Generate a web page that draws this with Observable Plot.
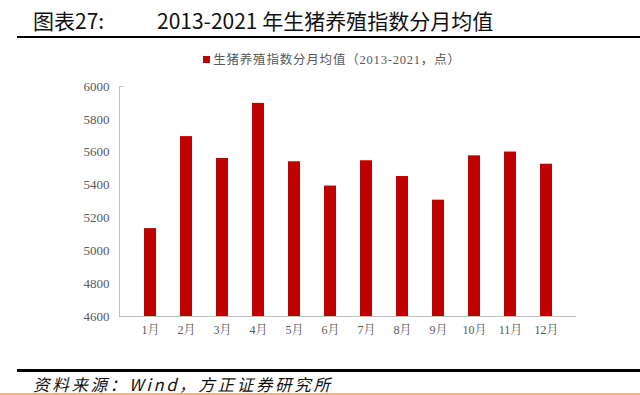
<!DOCTYPE html>
<html><head><meta charset="utf-8">
<script src="https://cdn.jsdelivr.net/npm/d3@7"></script>
<script src="https://cdn.jsdelivr.net/npm/@observablehq/plot@0.6"></script>
<style>
body{margin:0;background:#fff;}
#wrap{position:relative;width:640px;height:395px;overflow:hidden;font-family:"Noto Sans CJK SC",sans-serif;}
#title{position:absolute;left:33px;top:7px;font-size:21px;color:#111;white-space:pre;line-height:26px;}
#title .t2{position:absolute;left:124px;top:0;}
#rule1{position:absolute;left:17px;right:0;top:36px;height:2px;background:#000;}
#legend{position:absolute;left:0;width:640px;padding-left:24px;box-sizing:border-box;top:49px;text-align:center;font-size:12.5px;color:#595959;font-family:"Liberation Serif","Noto Sans CJK SC",serif;letter-spacing:0.8px;}
#legend .sw{display:inline-block;width:7px;height:7px;background:#c00000;margin-right:3px;vertical-align:1px;}
#chart{position:absolute;left:0;top:60px;}
#rule2{position:absolute;left:17px;right:0;top:369px;height:3px;background:#000;}
#source{position:absolute;left:33px;top:372px;font-size:16.5px;font-style:italic;color:#111;letter-spacing:2.7px;white-space:pre;}
#rule3{position:absolute;left:0;right:0;top:393px;height:2px;background:#f4b183;}
</style></head>
<body>
<div id="wrap">
  <div id="title">图表27:<span class="t2">2013-2021 年生猪养殖指数分月均值</span></div>
  <div id="rule1"></div>
  <div id="legend"><span class="sw"></span>生猪养殖指数分月均值（2013-2021，点）</div>
  <div id="chart"></div>
  <div id="rule2"></div>
  <div id="source">资料来源：Wind，方正证券研究所</div>
  <div id="rule3"></div>
</div>
<script>
const months = ["1月","2月","3月","4月","5月","6月","7月","8月","9月","10月","11月","12月"];
const values = [5135, 5695, 5562, 5897, 5542, 5394, 5548, 5452, 5308, 5578, 5601, 5527];
const yTicks = [4600, 4800, 5000, 5200, 5400, 5600, 5800, 6000];

const data = months.map((m, i) => ({month: m, value: values[i]}));

const serif = "'Liberation Serif', 'Noto Serif CJK SC', 'Noto Sans CJK SC', serif";
const marks = [
  Plot.barY(data, {x: "month", y1: 4600, y2: "value", fill: "#c00000"}),
  Plot.frame({anchor: "left", stroke: "#bfbfbf"}),
  Plot.ruleY([4600], {stroke: "#bfbfbf"})
];
if (Plot.axisY) {
  marks.push(Plot.axisY(yTicks, {tickSize: 0, tickPadding: 10, tickFormat: d => String(d), label: null, fontSize: 13}));
  marks.push(Plot.axisY([6000], {tickSize: -4, text: null, stroke: "#bfbfbf", label: null}));
}

const chart = Plot.plot({
  width: 640,
  height: 300,
  marginLeft: 119,
  marginRight: 64,
  marginTop: 26,
  marginBottom: 44,
  style: {fontFamily: serif, fontSize: "12px", color: "#595959", background: "transparent"},
  x: {domain: months, padding: 0.68, label: null, tickSize: 0, tickPadding: 9},
  y: {domain: [4600, 6000], ticks: yTicks, tickFormat: d => String(d), label: null, tickSize: 0, tickPadding: 10},
  marks
});
chart.querySelectorAll("[aria-label='y-axis tick label'] text, [aria-label='y-axis'] text").forEach(t => {
  t.setAttribute("font-size", "13px");
});
chart.querySelectorAll("text").forEach(t => {
  t.setAttribute("fill", "#595959");
  t.style.fontFamily = serif;
});
document.getElementById("chart").appendChild(chart);
</script>
</body></html>
